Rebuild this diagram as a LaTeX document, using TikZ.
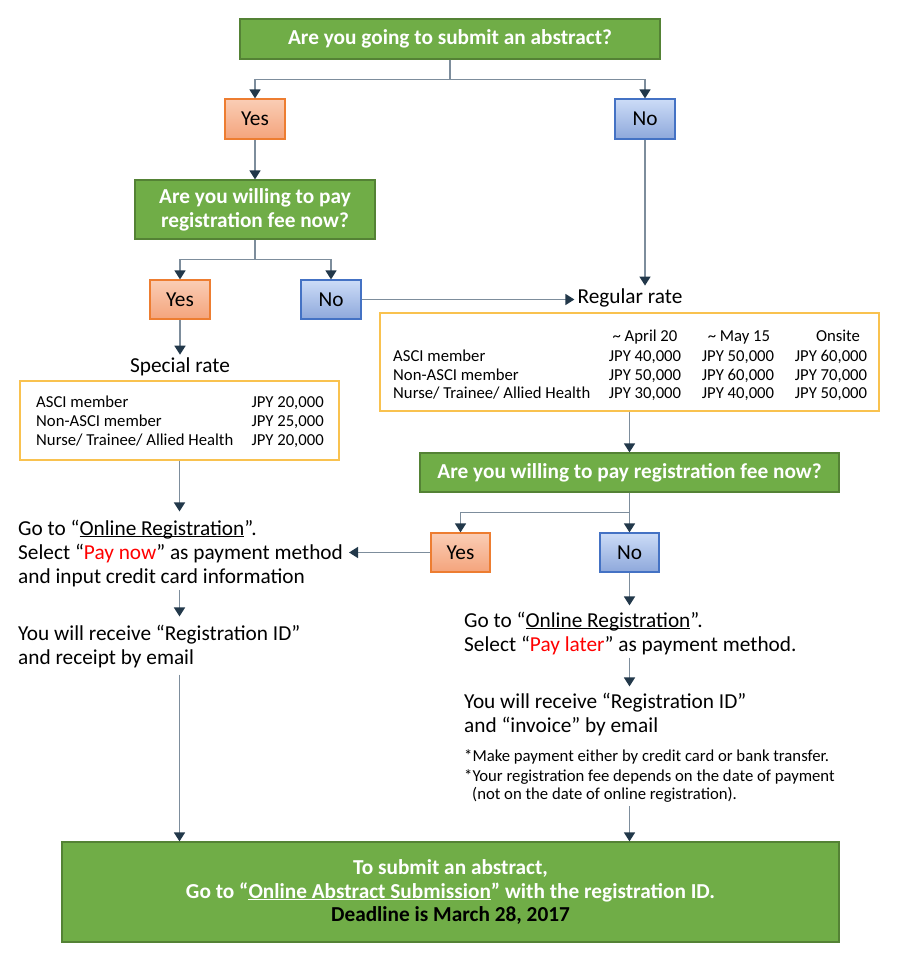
\documentclass[tikz,border=0pt]{standalone}
\usepackage{fontspec}
\setmainfont{Carlito}
\usetikzlibrary{arrows.meta}
\definecolor{gfill}{HTML}{70AD47}
\definecolor{gdraw}{HTML}{548235}
\definecolor{ytop}{HTML}{FACDB5}
\definecolor{ybot}{HTML}{F4A47C}
\definecolor{ydraw}{HTML}{ED7D31}
\definecolor{ntop}{HTML}{CCDCF7}
\definecolor{nbot}{HTML}{8EA8DB}
\definecolor{ndraw}{HTML}{4472C4}
\definecolor{tdraw}{HTML}{F9C24F}
\definecolor{lcol}{HTML}{7D8D9C}
\definecolor{acol}{HTML}{22384A}
\definecolor{redtxt}{HTML}{FF0000}
\newcommand{\myul}[1]{\underline{\smash{#1}}}
\tikzset{
  qbox/.style={draw=gdraw, fill=gfill, line width=1.2pt, align=center,
    font=\fontsize{21.3}{24}\selectfont\bfseries, text=white, inner sep=0pt},
  btxt/.style={inner sep=0pt, font=\fontsize{21.3}{24}\selectfont\bfseries, text=white},
  yesbox/.style={draw=ydraw, top color=ytop, bottom color=ybot, line width=1.2pt,
    minimum width=60pt, minimum height=40pt, inner sep=0pt, font=\fontsize{21.3}{24}\selectfont},
  nobox/.style={draw=ndraw, top color=ntop, bottom color=nbot, line width=1.2pt,
    minimum width=60pt, minimum height=40pt, inner sep=0pt, font=\fontsize{21.3}{24}\selectfont},
  tbox/.style={draw=tdraw, line width=1.2pt, inner sep=0pt},
  txt/.style={anchor=base west, inner sep=0pt, font=\fontsize{21.3}{24}\selectfont},
  small/.style={inner sep=0pt, font=\fontsize{16.7}{19}\selectfont},
  lbl/.style={inner sep=3pt, font=\fontsize{21.3}{24}\selectfont},
  arr/.style={draw=lcol, line width=1.5pt,
    -{Triangle[width=11pt,length=9pt,color=acol,fill=acol]}},
}
\begin{document}
\begin{tikzpicture}[x=1pt,y=-1pt]
\useasboundingbox (0,0) rectangle (900,960);

% boxes
\node[qbox, minimum width=420pt, minimum height=40pt] (q1) at (450,39) {Are you going to submit an abstract?};
\node[yesbox] (yes1) at (255,119) {Yes};
\node[nobox] (no1) at (645,119) {No};
\node[qbox, minimum width=240pt, minimum height=59pt] (q2) at (255,209.5) {Are you willing to pay\\registration fee now?};
\node[yesbox, minimum height=39pt] (yes2) at (180,299.5) {Yes};
\node[nobox, minimum height=39pt] (no2) at (331,299.5) {No};

\node[lbl] (splab) at (180,367) {Special rate};
\node[tbox, minimum width=319pt, minimum height=79pt] (spbox) at (179.5,420.5) {};
\node[lbl] (reglab) at (630,298) {Regular rate};
\node[tbox, minimum width=499pt, minimum height=98pt] (regbox) at (629.5,362) {};

\node[qbox, minimum width=419pt, minimum height=39pt] (q3) at (629.5,472.5) {Are you willing to pay registration fee now?};
\node[yesbox, minimum width=59pt, minimum height=39pt] (yes3) at (460.5,552.5) {Yes};
\node[nobox, minimum width=59pt, minimum height=39pt] (no3) at (629.5,552.5) {No};

\node[qbox, minimum width=777pt, minimum height=100pt] (bot) at (450.5,892) {};
\node[btxt, anchor=base] (b1) at (450.5,874) {To submit an abstract,};
\node[btxt, anchor=base] (b2) at (450.5,898) {Go to “\myul{Online Abstract Submission}” with the registration ID.};
\node[btxt, anchor=base, text=black] (b3) at (450.5,921) {Deadline is March 28, 2017};

% special rate table
\node[small, anchor=base west] (s1) at (36,407) {ASCI member};
\node[small, anchor=base west] (s2) at (36,426) {Non-ASCI member};
\node[small, anchor=base west] (s3) at (36,445) {Nurse/ Trainee/ Allied Health};
\node[small, anchor=base east] (sv1) at (324,407) {JPY 20,000};
\node[small, anchor=base east] (sv2) at (324,426) {JPY 25,000};
\node[small, anchor=base east] (sv3) at (324,445) {JPY 20,000};

% regular rate table
\node[small, anchor=base] (h1) at (645,341) {\textasciitilde{} April 20};
\node[small, anchor=base] (h2) at (739,341) {\textasciitilde{} May 15};
\node[small, anchor=base] (h3) at (838,341) {Onsite};
\node[small, anchor=base west] (r1) at (393,361) {ASCI member};
\node[small, anchor=base west] (r2) at (393,380) {Non-ASCI member};
\node[small, anchor=base west] (r3) at (393,398) {Nurse/ Trainee/ Allied Health};
\node[small, anchor=base] (v11) at (645,361) {JPY 40,000};
\node[small, anchor=base] (v12) at (738,361) {JPY 50,000};
\node[small, anchor=base] (v13) at (831,361) {JPY 60,000};
\node[small, anchor=base] (v21) at (645,380) {JPY 50,000};
\node[small, anchor=base] (v22) at (738,380) {JPY 60,000};
\node[small, anchor=base] (v23) at (831,380) {JPY 70,000};
\node[small, anchor=base] (v31) at (645,398) {JPY 30,000};
\node[small, anchor=base] (v32) at (738,398) {JPY 40,000};
\node[small, anchor=base] (v33) at (831,398) {JPY 50,000};

% left text
\node[txt] (la1) at (18,535) {Go to “\myul{Online Registration}”.};
\node[txt] (la2) at (18,559) {Select “\textcolor{redtxt}{Pay now}” as payment method};
\node[txt] (la3) at (18,583) {and input credit card information};
\node[txt] (la4) at (18,640) {You will receive “Registration ID”};
\node[txt] (la5) at (18,664) {and receipt by email};

% right text
\node[txt] (rb1) at (464,627) {Go to “\myul{Online Registration}”.};
\node[txt] (rb2) at (464,651) {Select “\textcolor{redtxt}{Pay later}” as payment method.};
\node[txt] (rb3) at (464,708) {You will receive “Registration ID”};
\node[txt] (rb4) at (464,732) {and “invoice” by email};
\node[small, anchor=base west] (n1) at (464,761) {*Make payment either by credit card or bank transfer.};
\node[small, anchor=base west] (n2) at (464,781) {*Your registration fee depends on the date of payment};
\node[small, anchor=base west] (n3) at (472,799) {(not on the date of online registration).};

% connectors
\draw[arr] (q1.south) -- ++(0,20) -| (yes1.north);
\draw[arr] (q1.south) -- ++(0,20) -| (no1.north);
\draw[arr] (yes1.south) -- (q2.north);
\draw[arr] (q2.south) -- ++(0,20) -| (yes2.north);
\draw[arr] (q2.south) -- ++(0,20) -| (no2.north);
\draw[arr] (no2.east) -- (no2.east -| reglab.west);
\draw[arr] (no1.south) -- (no1.south |- reglab.north);
\draw[arr] (yes2.south) -- (splab.north);
\draw[arr] (regbox.south) -- (q3.north);
\draw[arr] (q3.south) -- ++(0,20) -| (yes3.north);
\draw[arr] (q3.south) -- (no3.north);
\draw[arr] (yes3.west) -- ([xshift=6pt]yes3.west -| la2.east);
\draw[arr, shorten >=8pt] (spbox.south) -- (spbox.south |- la1.north);
\draw[arr, shorten <=3pt, shorten >=8pt] (spbox.south |- la3.south) -- (spbox.south |- la4.north);
\draw[arr, shorten <=7pt] (spbox.south |- la5.south) -- (spbox.south |- bot.north);
\draw[arr, shorten >=6pt] (no3.south) -- (no3.south |- rb1.north);
\draw[arr, shorten <=3pt, shorten >=6pt] (no3.south |- rb2.south) -- (no3.south |- rb3.north);
\draw[arr, shorten <=4pt] (no3.south |- n3.south) -- (no3.south |- bot.north);
\end{tikzpicture}
\end{document}
